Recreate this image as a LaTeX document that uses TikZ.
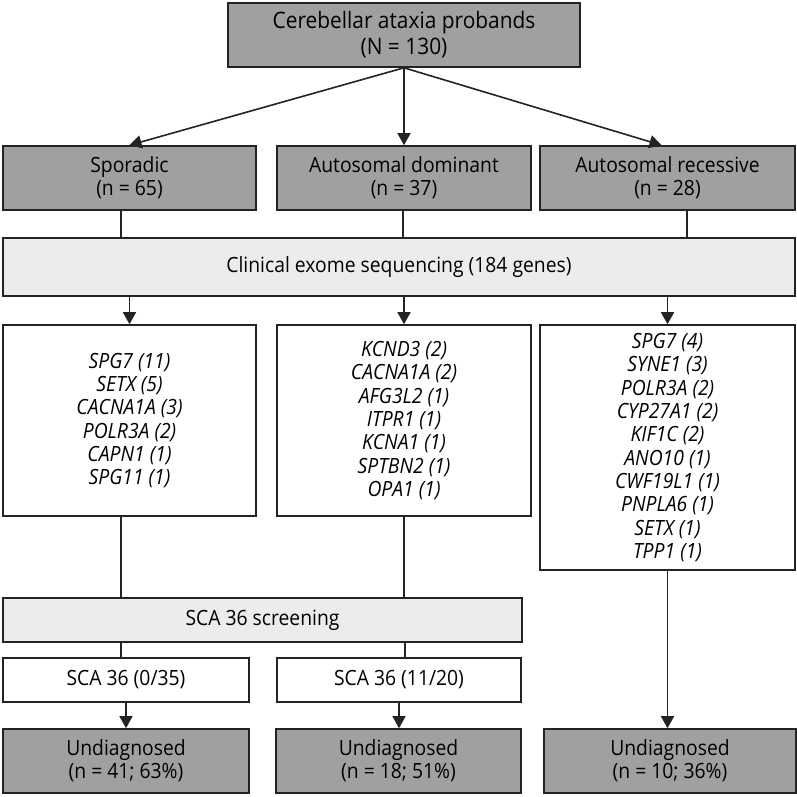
\documentclass[tikz,border=0pt]{standalone}
\usepackage{fontspec}
\setmainfont{Open Sans}[FakeStretch=0.92]
\usepackage{tikz}
\usetikzlibrary{arrows.meta,positioning,calc}
\definecolor{boxdark}{RGB}{160,160,160}
\definecolor{boxlight}{RGB}{236,236,236}
\definecolor{edge}{RGB}{35,35,35}

\begin{document}
\begin{tikzpicture}[x=1pt,y=-1pt,line width=1.6pt,draw=edge,
  every node/.style={font=\fontsize{21}{23.3}\selectfont,align=center,inner sep=0pt,line width=1.6pt,draw=edge},
  dark/.style={draw,fill=boxdark},
  light/.style={draw,fill=boxlight},
  plain/.style={draw,fill=white},
  genes/.style={plain,font=\fontsize{21}{23.3}\selectfont\itshape},
  arr/.style={-{Triangle[length=12pt,width=13pt]}}]
  \useasboundingbox (0,0) rectangle (797,796);
  % probands and family history
  \node[dark,minimum width=352,minimum height=64,font=\fontsize{22.7}{26}\selectfont] (top) at (404,35) {Cerebellar ataxia probands\\(N = 130)};
  \node[dark,minimum width=253,minimum height=64] (sp) at (129.5,178) {Sporadic\\(n = 65)};
  \node[dark,minimum width=254,minimum height=64] (ad) at (404,178) {Autosomal dominant\\(n = 37)};
  \node[dark,minimum width=255,minimum height=64] (ar) at (667.5,178) {Autosomal recessive\\(n = 28)};
  \draw[arr] (top.south) -- (sp.north);
  \draw[arr] (top.south) -- (ad.north);
  \draw[arr] (top.south) -- ([xshift=-6]ar.north);
  % exome
  \node[light,minimum width=792,minimum height=58] (cl) at (399,267) {Clinical exome sequencing (184 genes)};
  \draw ([xshift=-8.5]sp.south) -- ([xshift=-8.5]sp.south |- cl.north);
  \draw ([xshift=-1]ad.south) -- ([xshift=-1]ad.south |- cl.north);
  \draw ([xshift=19.5]ar.south) -- ([xshift=19.5]ar.south |- cl.north);
  \node[genes,minimum width=253,minimum height=191] (spg) at (129.5,420.5)
    {SPG7 (11)\\SETX (5)\\CACNA1A (3)\\POLR3A (2)\\CAPN1 (1)\\SPG11 (1)};
  \node[genes,minimum width=254,minimum height=191] (adg) at (404,420.5)
    {KCND3 (2)\\CACNA1A (2)\\AFG3L2 (1)\\ITPR1 (1)\\KCNA1 (1)\\SPTBN2 (1)\\OPA1 (1)};
  \node[genes,minimum width=255,minimum height=245] (arg) at (667.5,447.5)
    {SPG7 (4)\\SYNE1 (3)\\POLR3A (2)\\CYP27A1 (2)\\KIF1C (2)\\ANO10 (1)\\CWF19L1 (1)\\PNPLA6 (1)\\SETX (1)\\TPP1 (1)};
  \draw[arr] (spg.north |- cl.south) -- (spg.north);
  \draw[arr] (adg.north |- cl.south) -- (adg.north);
  \draw[arr] (arg.north |- cl.south) -- (arg.north);
  % SCA 36
  \node[light,minimum width=519,minimum height=44] (scr) at (262.5,620) {SCA 36 screening};
  \draw ([xshift=-8.5]spg.south) -- ([xshift=-8.5]spg.south |- scr.north);
  \draw (adg.south) -- (adg.south |- scr.north);
  \node[plain,minimum width=246,minimum height=44] (sca1) at (126,680) {SCA 36 (0/35)};
  \node[plain,minimum width=244,minimum height=44] (sca2) at (399,680) {SCA 36 (11/20)};
  \draw ([xshift=-5]sca1.north |- scr.south) -- ([xshift=-5]sca1.north);
  \draw ([xshift=6]sca2.north |- scr.south) -- ([xshift=6]sca2.north);
  % outcome
  \node[dark,minimum width=246,minimum height=64] (ud1) at (126,761) {Undiagnosed\\(n = 41; 63\%)};
  \node[dark,minimum width=245,minimum height=64] (ud2) at (398.5,761) {Undiagnosed\\(n = 18; 51\%)};
  \node[dark,minimum width=252,minimum height=64] (ud3) at (670,761) {Undiagnosed\\(n = 10; 36\%)};
  \draw[arr] (sca1.south) -- (sca1.south |- ud1.north);
  \draw[arr] (sca2.south) -- (sca2.south |- ud2.north);
  \draw[arr] (arg.south) -- (arg.south |- ud3.north);
\end{tikzpicture}
\end{document}
